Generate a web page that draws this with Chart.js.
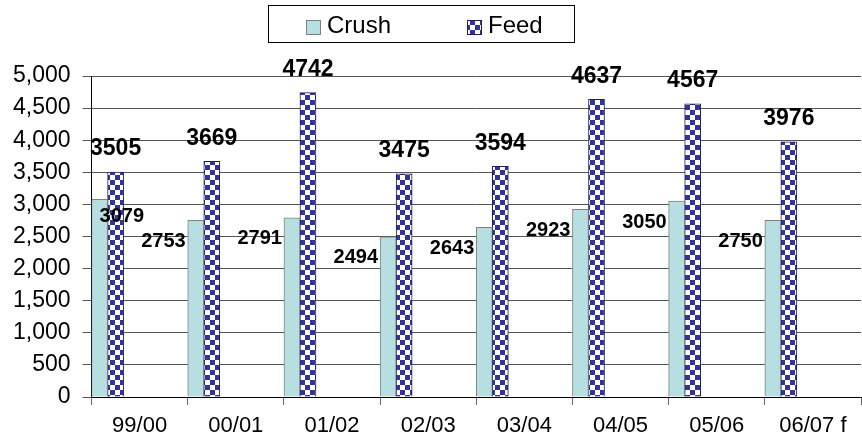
<!DOCTYPE html>
<html>
<head>
<meta charset="utf-8">
<script src="https://cdn.jsdelivr.net/npm/chart.js@4.4.1/dist/chart.umd.min.js"></script>
<style>
  body { margin: 0; background: #fff; }
</style>
</head>
<body>
<canvas id="crushFeedChart" width="862" height="447"></canvas>
<script>
// season labels and values (thousand tonnes)
const seasons = ["99/00", "00/01", "01/02", "02/03", "03/04", "04/05", "05/06", "06/07 f"];
const crush = [3079, 2753, 2791, 2494, 2643, 2923, 3050, 2750];
const feed = [3505, 3669, 4742, 3475, 3594, 4637, 4567, 3976];
const yTicks = [0, 500, 1000, 1500, 2000, 2500, 3000, 3500, 4000, 4500, 5000];

const FONT = "'Liberation Sans', Arial, sans-serif";
const NAVY = "#333399";
const CRUSH_FILL = "#b7dfe1";

// checkerboard pattern for the feed bars
function makeChecker(cell) {
  const c = document.createElement("canvas");
  c.width = cell * 2;
  c.height = cell * 2;
  const g = c.getContext("2d");
  g.fillStyle = "#fff";
  g.fillRect(0, 0, cell * 2, cell * 2);
  g.fillStyle = NAVY;
  g.fillRect(0, 0, cell, cell);
  g.fillRect(cell, cell, cell, cell);
  return c;
}
const ctx = document.getElementById("crushFeedChart").getContext("2d");
const checker = ctx.createPattern(makeChecker(5), "repeat");

// values drawn as text next to the bars
const barLabels = {
  id: "barLabels",
  afterDatasetsDraw(chart) {
    const c = chart.ctx;
    c.save();
    c.fillStyle = "#000";
    c.textBaseline = "middle";
    chart.getDatasetMeta(0).data.forEach((el, i) => {
      c.font = "bold 20px " + FONT;
      if (i === 0) {
        c.textAlign = "left";
        c.fillText(crush[i], el.x + el.width / 2 - 8, el.y + 17);
      } else {
        c.textAlign = "right";
        c.fillText(crush[i], el.x - el.width / 2 - 2, el.y + 21);
      }
    });
    chart.getDatasetMeta(1).data.forEach((el, i) => {
      c.font = "bold 23px " + FONT;
      c.textAlign = "center";
      c.fillText(feed[i], el.x, el.y - 23);
    });
    c.restore();
  },
};

// legend in a box, like the original
const boxedLegend = {
  id: "boxedLegend",
  afterDraw(chart) {
    const c = chart.ctx;
    c.save();
    c.strokeStyle = "#000";
    c.lineWidth = 1;
    c.strokeRect(268.5, 5.5, 306, 37);
    c.font = "24px " + FONT;
    c.textBaseline = "middle";
    c.textAlign = "left";
    const items = [
      { x: 306, ds: chart.data.datasets[0] },
      { x: 467, ds: chart.data.datasets[1] },
    ];
    items.forEach((it) => {
      c.fillStyle = it.ds.backgroundColor;
      c.fillRect(it.x, 20, 15, 15);
      c.strokeStyle = it.ds.borderColor;
      c.strokeRect(it.x + 0.5, 20.5, 14, 14);
      c.fillStyle = "#000";
      c.fillText(it.ds.label, it.x + 21, 26);
    });
    c.restore();
  },
};

const spacer = () => ({ label: "", data: [], backgroundColor: "transparent" });

const chart_config = {
  type: "bar",
  data: {
    labels: seasons,
    datasets: [
      {
        label: "Crush",
        data: crush,
        backgroundColor: CRUSH_FILL,
        borderColor: "#7f7f7f",
        borderWidth: 1,
      },
      {
        label: "Feed",
        data: feed,
        backgroundColor: checker,
        borderColor: "#1f1f5f",
        borderWidth: 1,
      },
      spacer(),
      spacer(),
      spacer(),
      spacer(),
    ],
  },
  options: {
    responsive: false,
    animation: false,
    categoryPercentage: 1,
    barPercentage: 1,
    layout: { padding: { top: 76, left: 1, right: 1, bottom: 0 } },
    plugins: {
      legend: { display: false },
      tooltip: { enabled: false },
    },
    scales: {
      x: {
        grid: {
          offset: true,
          drawOnChartArea: false,
          drawTicks: true,
          tickLength: 8,
          color: "#666",
        },
        border: { color: "#000", width: 1 },
        ticks: {
          color: "#000",
          padding: 10,
          maxRotation: 0,
          autoSkip: false,
          font: { family: FONT, size: 22, lineHeight: 1 },
        },
      },
      y: {
        min: 0,
        max: 5000,
        afterBuildTicks: (axis) => {
          axis.ticks = yTicks.map((v) => ({ value: v }));
        },
        grid: {
          color: "#555",
          tickLength: 9,
        },
        border: { color: "#000", width: 1 },
        ticks: {
          color: "#000",
          padding: 12,
          font: { family: FONT, size: 23 },
        },
      },
    },
  },
  plugins: [barLabels, boxedLegend],
};

const crush_feed_chart = new Chart(ctx, chart_config);
</script>
</body>
</html>
